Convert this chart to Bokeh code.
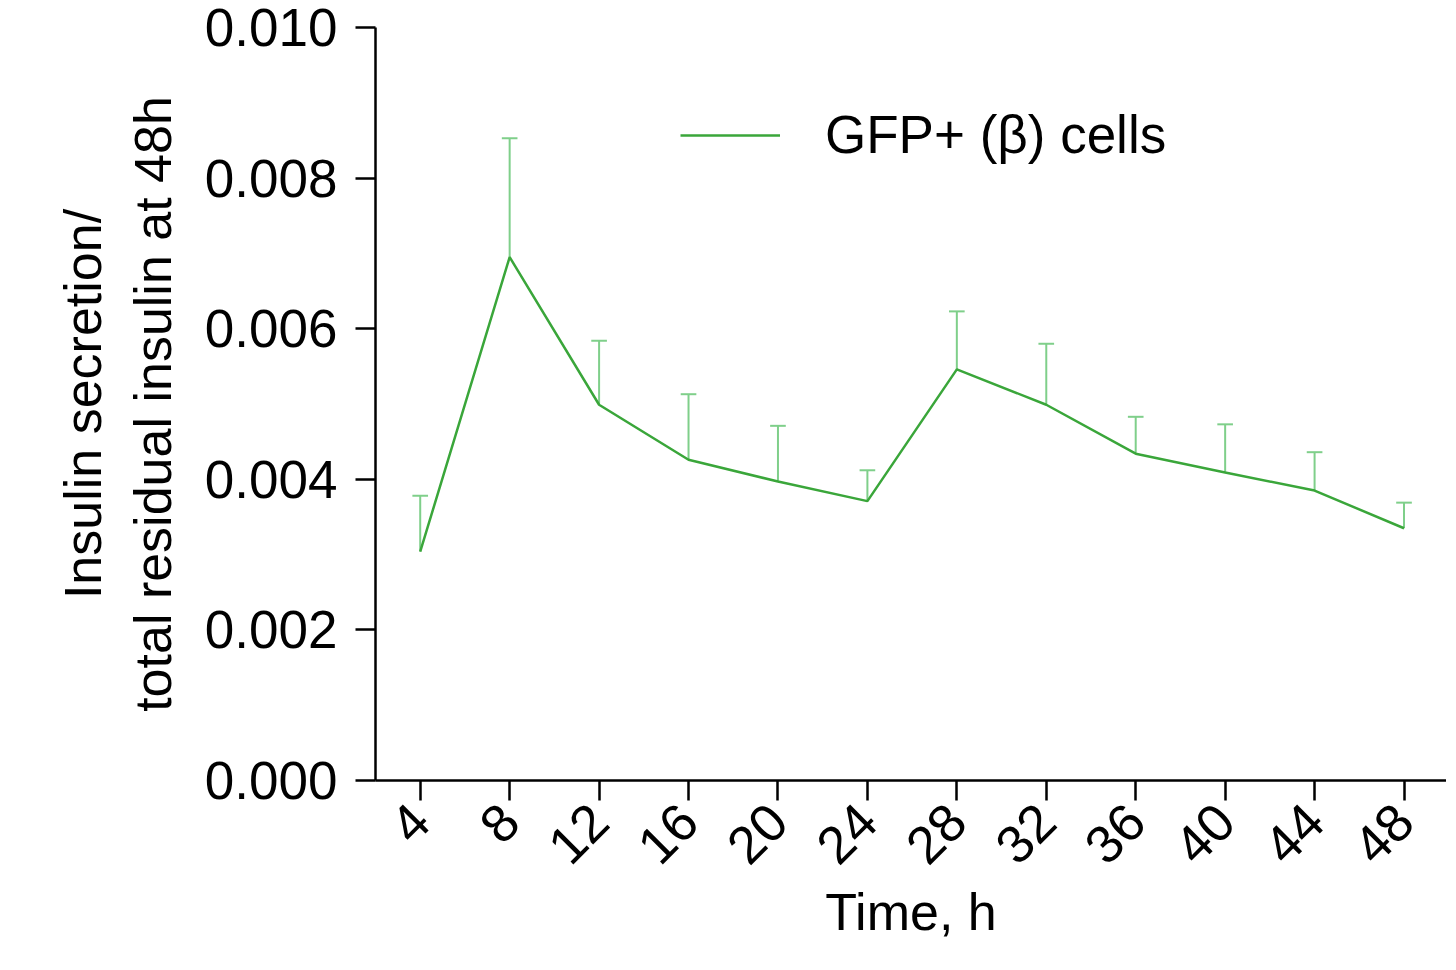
from bokeh.plotting import figure
from bokeh.models import Legend, LegendItem, FixedTicker, Range1d, PrintfTickFormatter
from bokeh.embed import file_html
from bokeh.resources import INLINE
import math

hours = [4, 8, 12, 16, 20, 24, 28, 32, 36, 40, 44, 48]
mean = [0.00304, 0.00695, 0.00499, 0.00426, 0.00397, 0.00371, 0.00546, 0.00499, 0.00434, 0.00409, 0.00385, 0.00335]
upper = [0.00378, 0.00853, 0.00584, 0.00513, 0.00471, 0.00412, 0.00623, 0.00580, 0.00483, 0.00473, 0.00436, 0.00369]

FONT = "Liberation Sans"
GREEN = "#3aa63a"

p = figure(width=1446, height=955, output_backend="svg", toolbar_location=None,
           x_range=Range1d(2, 49.9), y_range=Range1d(0, 0.010),
           min_border_left=375, min_border_top=27, min_border_right=0, min_border_bottom=175)
p.outline_line_color = None
p.grid.visible = False

p.segment(x0=hours, y0=mean, x1=hours, y1=upper, line_color="#7fcf8a", line_width=2)
p.segment(x0=[h - 0.35 for h in hours], y0=upper, x1=[h + 0.35 for h in hours], y1=upper,
          line_color="#7fcf8a", line_width=2)
r = p.line(hours, mean, line_color=GREEN, line_width=2.5)

leg = Legend(items=[LegendItem(label="GFP+ (β) cells", renderers=[r])],
             location=(305, 615), border_line_color=None, background_fill_alpha=0,
             label_text_font=FONT, label_text_font_size="53px", label_text_color="black",
             glyph_width=100, label_standoff=45, glyph_height=40)
p.add_layout(leg, "center")

p.xaxis.ticker = FixedTicker(ticks=hours)
p.yaxis.ticker = FixedTicker(ticks=[0, 0.002, 0.004, 0.006, 0.008, 0.010])
p.yaxis.formatter = PrintfTickFormatter(format="%.3f")
p.xaxis.major_label_orientation = math.pi / 4
for ax in (p.xaxis, p.yaxis):
    ax.axis_line_width = 2.5
    ax.major_tick_line_width = 2.5
    ax.major_tick_out = 20
    ax.major_tick_in = 0
    ax.minor_tick_line_color = None
    ax.major_label_text_font = FONT
    ax.major_label_text_font_size = "53px"
    ax.major_label_text_color = "black"
    ax.axis_label_text_font = FONT
    ax.axis_label_text_font_size = "52px"
    ax.axis_label_text_color = "black"
    ax.axis_label_text_font_style = "normal"
p.yaxis.major_label_standoff = 18
p.xaxis.major_label_standoff = 12
p.xaxis.axis_label = "Time, h"
p.xaxis.axis_label_standoff = 0
p.yaxis.axis_label = "Insulin secretion/\ntotal residual insulin at 48h"
p.yaxis.axis_label_standoff = 20

open("out.html", "w").write(file_html(p, INLINE))
